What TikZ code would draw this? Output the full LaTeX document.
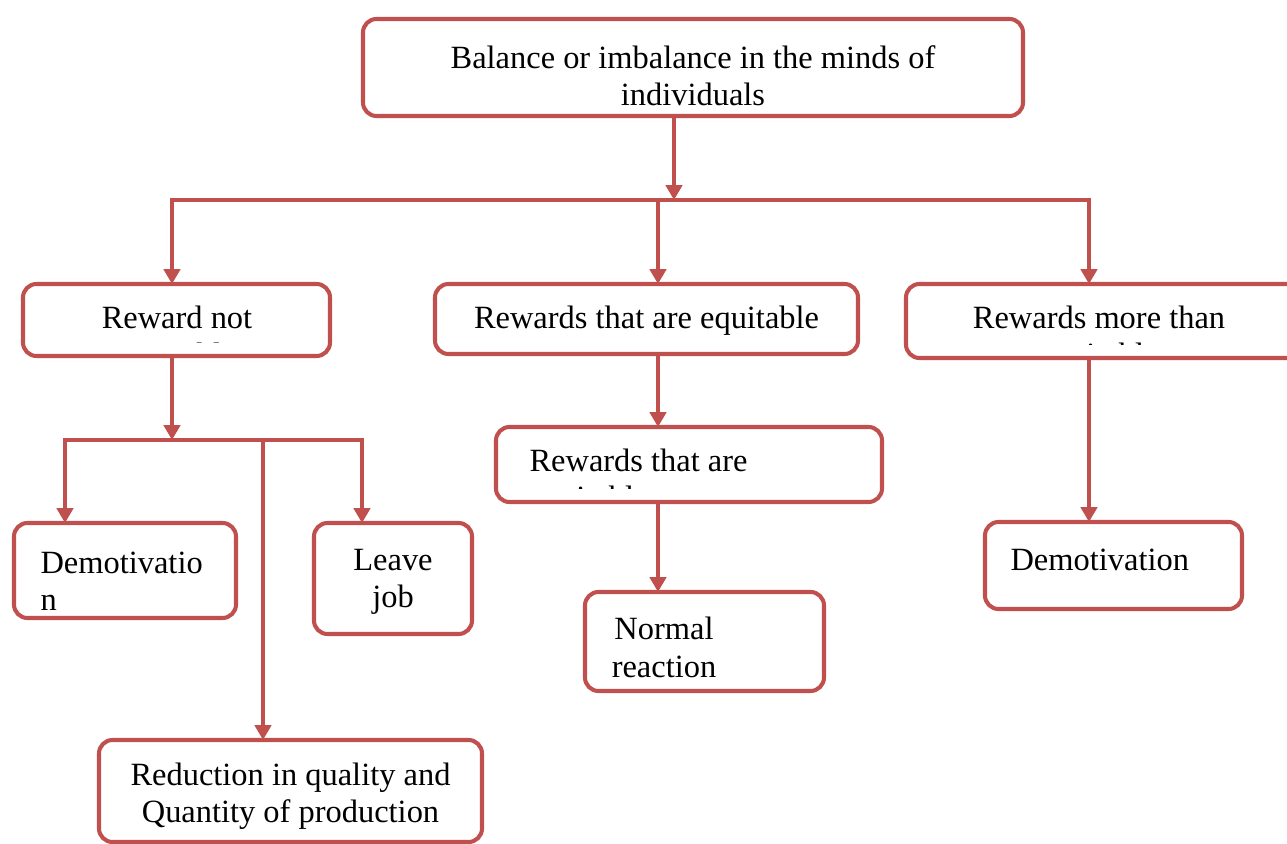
\documentclass[tikz,border=0pt]{standalone}
\usepackage{fontspec}
\setmainfont{Liberation Serif}
\usetikzlibrary{arrows.meta}
\definecolor{accent}{HTML}{C0504D}

\begin{document}
\begin{tikzpicture}[x=0.013cm,y=-0.013cm]
   \tikzstyle{box}=[draw=accent, line width=1.5pt, rounded corners=5pt, outer sep=0pt, inner sep=0pt]
   \tikzstyle{txt}=[inner sep=0pt, font=\fontsize{12}{13.8}\selectfont, align=center]
   \tikzstyle{link}=[draw=accent, line width=1.5pt]
   \tikzstyle{arrow}=[link, -{Triangle[width=6pt,length=5.5pt]}]
   \useasboundingbox (0,0) rectangle (1287,844);
   \clip (0,0) rectangle (1287,844);
   \node[box, minimum width=8.58cm, minimum height=1.261cm] (bal) at (693,67.5) {};
   \node[box, minimum width=3.991cm, minimum height=0.936cm] (rne) at (176.5,320) {};
   \node[box, minimum width=5.499cm, minimum height=0.91cm] (req) at (646.5,319) {};
   \node[box, minimum width=5.122cm, minimum height=0.962cm] (rmore) at (1103,321) {};
   \node[box, minimum width=5.018cm, minimum height=0.975cm] (req2) at (689,464.5) {};
   \node[box, minimum width=3.107cm, minimum height=1.287cm] (norm) at (704.5,641.5) {};
   \node[box, minimum width=2.886cm, minimum height=1.235cm] (demo1) at (125,570.5) {};
   \node[box, minimum width=2.054cm, minimum height=1.443cm] (leave) at (393,578.5) {};
   \node[box, minimum width=4.979cm, minimum height=1.326cm] (reduc) at (290.5,791) {};
   \node[box, minimum width=3.341cm, minimum height=1.131cm] (demo2) at (1113.5,565.5) {};
   \node[txt] (baltext) at (693,75.5) {Balance or imbalance in the minds of\\individuals};
   \node[txt] (reqtext) at (646.5,321) {Rewards that are equitable};
   \node[txt] (leavetext) at (393,581.5) {Leave\\job};
   \node[txt] (reductext) at (290.5,796) {Reduction in quality and\\Quantity of production};
   \node[txt, align=left, anchor=west] (demo1text) at (40,581.5) {Demotivatio\\n};
   \node[txt] (normtext) at (664,647.5) {Normal\\reaction};
   \node[txt, anchor=west] (demo2text) at (1010,560) {Demotivation};
   \begin{scope}
      \clip ([yshift=5pt]rne.south west) rectangle (rne.north east);
      \node[txt] (rnetext) at (177,339.5) {Reward not\\equitable};
   \end{scope}
   \begin{scope}
      \clip ([yshift=5pt]rmore.south west) rectangle (rmore.north east);
      \node[txt] (rmoretext) at (1099,339.5) {Rewards more than\\equitable};
   \end{scope}
   \begin{scope}
      \clip ([yshift=5pt]req2.south west) rectangle (req2.north east);
      \node[txt, align=left, anchor=west] (req2text) at (529,482.5) {Rewards that are\\equitable};
   \end{scope}
   \coordinate (join) at (674,200);
   \coordinate (busL) at (172,200);
   \coordinate (busM) at (658,200);
   \coordinate (busR) at (1089,200);
   \coordinate (split) at (172,440);
   \coordinate (subL) at (65,440);
   \coordinate (subM) at (263,440);
   \coordinate (subR) at (362,440);
   \draw[arrow] (bal.south -| join) -- (join);
   \draw[arrow] (busM) -| (busL |- rne.north);
   \draw[arrow] (busM) -| (busR |- rmore.north);
   \draw[arrow] (busM) -- (busM |- req.north);
   \draw[arrow] (rne.south -| split) -- (split);
   \draw[arrow] (subM) -| (subL |- demo1.north);
   \draw[arrow] (subM) -| (subR |- leave.north);
   \draw[arrow] (subM) -- (subM |- reduc.north);
   \draw[arrow] (req.south -| busM) -- (busM |- req2.north);
   \draw[arrow] (req2.south -| busM) -- (busM |- norm.north);
   \draw[arrow] (rmore.south -| busR) -- (busR |- demo2.north);
\end{tikzpicture}
\end{document}
